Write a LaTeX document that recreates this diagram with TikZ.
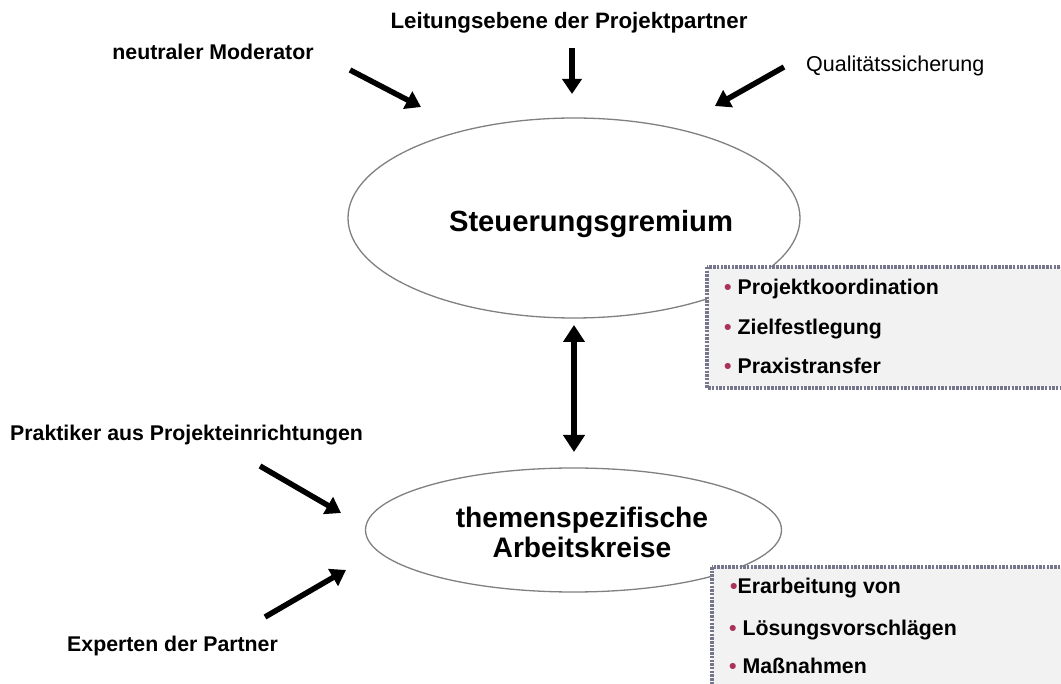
\documentclass[tikz,border=0pt]{standalone}
\usepackage{fontspec}
\setmainfont{Liberation Sans}
\usetikzlibrary{arrows.meta}
\definecolor{ellgray}{HTML}{808080}
\definecolor{boxfill}{HTML}{F2F2F2}
\definecolor{boxline}{HTML}{75758C}
\definecolor{bul}{HTML}{A8325A}
\tikzset{
  bigarrow/.style={line width=5.5pt,-{Triangle[length=15pt,width=19pt]}},
  dblarrow/.style={line width=6pt,{Triangle[length=17pt,width=21pt]}-{Triangle[length=17pt,width=21pt]}},
  ell/.style={draw=ellgray,line width=1.3pt,fill=white},
  infobox/.style={draw=boxline,fill=boxfill,line width=3.2pt,dash pattern=on 2.5pt off 1.2pt},
  lbl/.style={font=\fontsize{21.3}{24}\selectfont\bfseries,inner sep=0pt,anchor=base},
  lblw/.style={lbl,anchor=base west},
  boxtxt/.style={font=\fontsize{21.3}{24}\selectfont\bfseries,inner sep=0pt,anchor=base west},
}
\begin{document}
\begin{tikzpicture}[x=1pt,y=-1pt]
\clip (0,0) rectangle (1061,684);
\fill[white] (0,0) rectangle (1061,684);
% ellipses
\draw[ell] (574,218) ellipse [x radius=226, y radius=100];
\node[font=\fontsize{29.2}{33}\selectfont\bfseries,inner sep=0pt,anchor=base] (steu) at (591,232) {Steuerungsgremium};
\draw[ell] (573.5,530) ellipse [x radius=208, y radius=62];
\node[font=\fontsize{28.2}{32}\selectfont\bfseries,inner sep=0pt,anchor=base] (them1) at (582,528) {themenspezifische};
\node[font=\fontsize{28.2}{32}\selectfont\bfseries,inner sep=0pt,anchor=base] (them2) at (582,558) {Arbeitskreise};
% boxes
\draw[infobox] (707,267) rectangle (1075,388);
\node[boxtxt] (b11) at (724,295) {\textcolor{bul}{•} Projektkoordination};
\node[boxtxt] (b12) at (724,335) {\textcolor{bul}{•} Zielfestlegung};
\node[boxtxt] (b13) at (724,374) {\textcolor{bul}{•} Praxistransfer};
\draw[infobox] (712,567) rectangle (1075,700);
\node[boxtxt] (b21) at (730,593) {\textcolor{bul}{•}Erarbeitung von};
\node[boxtxt] (b22) at (729,635) {\textcolor{bul}{•} Lösungsvorschlägen};
\node[boxtxt] (b23) at (729,673) {\textcolor{bul}{•} Maßnahmen};
% labels
\node[lbl] (mod) at (213,60) {neutraler Moderator};
\node[lbl,font=\fontsize{22.3}{25}\selectfont\bfseries] (leit) at (569,29) {Leitungsebene der Projektpartner};
\node[font=\fontsize{21.5}{24}\selectfont,inner sep=0pt,anchor=base west] (qual) at (806,72) {Qualitätssicherung};
\node[lblw] (prak) at (10,441) {Praktiker aus Projekteinrichtungen};
\node[lblw] (expt) at (67,651) {Experten der Partner};
% arrow coordinates
\coordinate (m1) at (350,70); \coordinate (m2) at (421,107);
\coordinate (l1) at (572,48); \coordinate (l2) at (572,94);
\coordinate (q1) at (784,67); \coordinate (q2) at (715,106);
\coordinate (d1) at (574,325); \coordinate (d2) at (574,452);
\coordinate (p1) at (260,466); \coordinate (p2) at (341,513);
\coordinate (e1) at (265,617); \coordinate (e2) at (346,570);
\draw[bigarrow] (m1) -- (m2);
\draw[bigarrow] (l1) -- (l2);
\draw[bigarrow] (q1) -- (q2);
\draw[dblarrow] (d1) -- (d2);
\draw[bigarrow] (p1) -- (p2);
\draw[bigarrow] (e1) -- (e2);
\end{tikzpicture}
\end{document}
